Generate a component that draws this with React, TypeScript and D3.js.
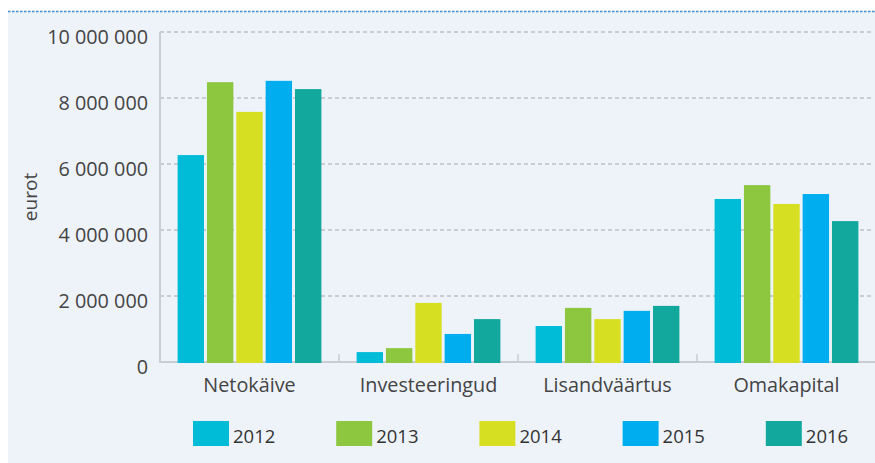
import React from "react";
import * as d3 from "d3";

const categories = ["Netokäive", "Investeeringud", "Lisandväärtus", "Omakapital"];
const years = ["2012", "2013", "2014", "2015", "2016"];
const values2012 = [6270000, 300000, 1090000, 4940000];
const values2013 = [8480000, 420000, 1640000, 5360000];
const values2014 = [7580000, 1790000, 1300000, 4790000];
const values2015 = [8520000, 850000, 1550000, 5090000];
const values2016 = [8270000, 1300000, 1700000, 4270000];
const yTicks = [0, 2000000, 4000000, 6000000, 8000000, 10000000];
const yTitle = "eurot";
const colors = ["#00bcd6", "#8dc63f", "#d7df23", "#00aeef", "#12a89d"];

const series = [values2012, values2013, values2014, values2015, values2016];

const W = 875;
const H = 463;
const left = 160;
const right = 876;
const top = 32;
const bottom = 362;
const font = "'Open Sans', 'Noto Sans', sans-serif";

export default function App() {
  const x0 = d3.scaleBand<string>().domain(categories).range([left, right]).paddingInner(0).paddingOuter(0);
  const x1 = d3
    .scaleBand<string>()
    .domain(years)
    .range([0, x0.bandwidth()])
    .paddingInner(0.1)
    .paddingOuter(0.6);
  const y = d3.scaleLinear().domain([0, 10000000]).range([bottom, top]);
  const fmt = (v: number) => d3.format(",")(v).replace(/,/g, " ");

  return (
    <svg
      width={W}
      height={H}
      style={{ position: "absolute", left: 0, top: 0, background: "#ffffff" }}
    >
      <rect x={8} y={11} width={W - 8} height={H - 11} fill="#eef3fa" />
      <line x1={8} x2={W} y1={11.5} y2={11.5} stroke="#3a8fd0" strokeWidth={1.5} strokeDasharray="2.5 1.5" />
      {yTicks.slice(1).map((t) => (
        <line
          key={t}
          x1={left}
          x2={873}
          y1={y(t)}
          y2={y(t)}
          stroke="#c9ccd1"
          strokeWidth={2}
          strokeDasharray="4 3"
        />
      ))}
      {yTicks.map((t) => (
        <text
          key={"l" + t}
          x={148}
          y={y(t) + 11.5}
          textAnchor="end"
          fontFamily={font}
          fontSize={19.8}
          fill="#444444"
        >
          {fmt(t)}
        </text>
      ))}
      <text
        transform={`translate(37,${(top + bottom) / 2}) rotate(-90)`}
        textAnchor="middle"
        fontFamily={font}
        fontSize={19}
        fill="#444444"
      >
        {yTitle}
      </text>
      <line x1={left} x2={left} y1={top} y2={bottom + 1} stroke="#c9ccd1" strokeWidth={2} />
      <line x1={left} x2={W} y1={bottom} y2={bottom} stroke="#c9ccd1" strokeWidth={2} />
      {categories.slice(1).map((c) => (
        <line
          key={"t" + c}
          x1={x0(c)!}
          x2={x0(c)!}
          y1={bottom - 8}
          y2={bottom}
          stroke="#c9ccd1"
          strokeWidth={1.5}
        />
      ))}
      {categories.map((c, ci) =>
        years.map((yr, si) => {
          const v = series[si][ci];
          const bx = x0(c)! + x1(yr)!;
          return (
            <rect
              key={c + yr}
              x={bx}
              y={y(v)}
              width={x1.bandwidth()}
              height={bottom + 1 - y(v)}
              fill={colors[si]}
            />
          );
        })
      )}
      {categories.map((c) => (
        <text
          key={"c" + c}
          x={x0(c)! + x0.bandwidth() / 2}
          y={392}
          textAnchor="middle"
          fontFamily={font}
          fontSize={19.8}
          fill="#444444"
        >
          {c}
        </text>
      ))}
      {years.map((yr, i) => (
        <g key={"lg" + yr} transform={`translate(${193 + i * 143.2},421)`}>
          <rect width={36} height={25} fill={colors[i]} />
          <text x={40} y={22} fontFamily={font} fontSize={18.5} fill="#333333">
            {yr}
          </text>
        </g>
      ))}
    </svg>
  );
}
